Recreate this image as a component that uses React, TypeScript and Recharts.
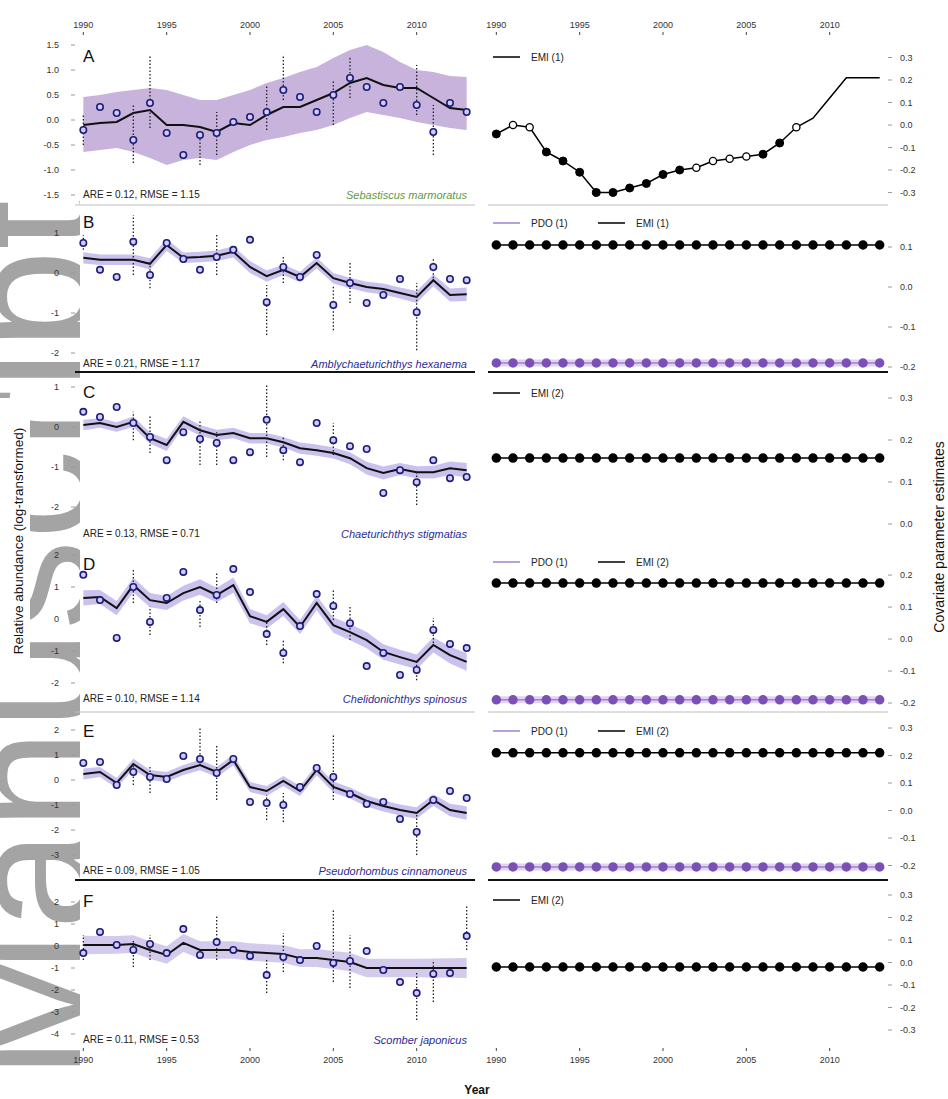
import React from 'react';
import { ComposedChart, Line, Area, Scatter, XAxis, YAxis, ErrorBar } from 'recharts';

// ---- shared axes ----
const years = [1990, 1991, 1992, 1993, 1994, 1995, 1996, 1997, 1998, 1999, 2000, 2001, 2002, 2003, 2004, 2005, 2006, 2007, 2008, 2009, 2010, 2011, 2012, 2013];
const yearTicks = [1990, 1995, 2000, 2005, 2010];

// ---- panel A: Sebastiscus marmoratus ----
const fitA = [-0.10, -0.06, -0.04, 0.14, 0.20, -0.10, -0.10, -0.14, -0.24, -0.06, -0.10, 0.10, 0.26, 0.26, 0.40, 0.54, 0.74, 0.84, 0.70, 0.64, 0.64, 0.44, 0.24, 0.20];
const hiA = [0.46, 0.50, 0.56, 0.60, 0.64, 0.60, 0.50, 0.40, 0.40, 0.50, 0.60, 0.74, 0.84, 0.96, 1.06, 1.24, 1.40, 1.50, 1.36, 1.16, 1.00, 0.96, 0.88, 0.86];
const loA = [-0.64, -0.60, -0.56, -0.64, -0.76, -0.90, -0.80, -0.76, -0.80, -0.64, -0.50, -0.40, -0.34, -0.26, -0.20, -0.10, 0.04, 0.16, 0.10, 0.04, -0.04, -0.10, -0.16, -0.20];
const obsA = [-0.20, 0.26, 0.14, -0.40, 0.34, -0.26, -0.70, -0.30, -0.26, -0.04, 0.06, 0.16, 0.60, 0.46, 0.16, 0.50, 0.84, 0.66, 0.34, 0.66, 0.30, -0.24, 0.34, 0.16];
const errLoA = [-0.50, null, null, -0.86, -0.16, null, null, -0.90, -0.70, null, null, -0.20, 0.40, null, null, -0.10, 0.44, null, null, null, 0.10, -0.70, null, null];
const errHiA = [0.10, null, null, 0.30, 1.30, null, null, -0.20, 0.16, null, null, 0.70, 1.30, null, null, 0.80, 1.26, null, null, null, 1.10, 0.30, null, null];
const emiA = [-0.04, 0.00, -0.01, -0.12, -0.16, -0.21, -0.30, -0.30, -0.28, -0.26, -0.22, -0.20, -0.19, -0.16, -0.15, -0.14, -0.13, -0.08, -0.01, 0.03, 0.12, 0.21, 0.21, 0.21];
const markA = ['f', 'o', 'o', 'f', 'f', 'f', 'f', 'f', 'f', 'f', 'f', 'f', 'o', 'o', 'o', 'o', 'f', 'f', 'o', '', '', '', '', ''];

// ---- panel B: Amblychaeturichthys hexanema ----
const fitB = [0.38, 0.33, 0.33, 0.33, 0.23, 0.70, 0.38, 0.40, 0.43, 0.53, 0.15, -0.08, 0.08, -0.10, 0.25, -0.13, -0.25, -0.35, -0.40, -0.50, -0.60, -0.18, -0.55, -0.53];
const ciB = [0.14, 0.13, 0.13, 0.13, 0.14, 0.15, 0.13, 0.13, 0.13, 0.14, 0.15, 0.14, 0.13, 0.13, 0.14, 0.13, 0.13, 0.13, 0.14, 0.14, 0.15, 0.15, 0.16, 0.17];
const obsB = [0.75, 0.08, -0.10, 0.78, -0.05, 0.75, 0.35, 0.08, 0.40, 0.58, 0.83, -0.73, 0.15, -0.10, 0.45, -0.80, -0.25, -0.75, -0.55, -0.15, -0.98, 0.15, -0.15, -0.18];
const errLoB = [0.58, null, null, -0.05, -0.38, null, null, null, -0.05, null, null, -1.55, -0.25, null, null, -1.43, -0.75, null, null, null, -1.93, -0.13, null, null];
const errHiB = [0.95, null, null, 1.45, 0.33, null, null, null, 1.00, null, null, -0.30, 0.45, null, null, -0.30, 0.25, null, null, null, -0.25, 0.38, null, null];
const pdoB = [-0.19, -0.19, -0.19, -0.19, -0.19, -0.19, -0.19, -0.19, -0.19, -0.19, -0.19, -0.19, -0.19, -0.19, -0.19, -0.19, -0.19, -0.19, -0.19, -0.19, -0.19, -0.19, -0.19, -0.19];
const emiB = [0.105, 0.105, 0.105, 0.105, 0.105, 0.105, 0.105, 0.105, 0.105, 0.105, 0.105, 0.105, 0.105, 0.105, 0.105, 0.105, 0.105, 0.105, 0.105, 0.105, 0.105, 0.105, 0.105, 0.105];

// ---- panel C: Chaeturichthys stigmatias ----
const fitC = [0.05, 0.10, 0.00, 0.13, -0.28, -0.45, 0.13, -0.08, -0.20, -0.15, -0.28, -0.28, -0.38, -0.53, -0.58, -0.65, -0.78, -1.03, -1.15, -1.05, -1.13, -1.13, -1.03, -1.08];
const ciC = [0.13, 0.12, 0.12, 0.13, 0.14, 0.15, 0.14, 0.13, 0.13, 0.13, 0.13, 0.13, 0.13, 0.14, 0.14, 0.14, 0.15, 0.16, 0.16, 0.15, 0.15, 0.16, 0.17, 0.18];
const obsC = [0.38, 0.25, 0.50, 0.10, -0.25, -0.83, -0.13, -0.30, -0.40, -0.83, -0.63, 0.18, -0.58, -0.88, 0.10, -0.33, -0.48, -0.55, -1.65, -1.08, -1.38, -0.83, -1.28, -1.25];
const errLoC = [null, null, null, -0.33, -0.65, null, null, -0.95, -0.95, null, null, -0.75, -0.83, null, null, -0.70, null, null, null, null, -1.95, null, null, null];
const errHiC = [null, null, null, 0.38, 0.30, null, null, 0.18, -0.13, null, null, 1.05, -0.25, null, null, 0.10, null, null, null, null, -1.08, null, null, null];
const emiC = [0.157, 0.157, 0.157, 0.157, 0.157, 0.157, 0.157, 0.157, 0.157, 0.157, 0.157, 0.157, 0.157, 0.157, 0.157, 0.157, 0.157, 0.157, 0.157, 0.157, 0.157, 0.157, 0.157, 0.157];

// ---- panel D: Chelidonichthys spinosus ----
const fitD = [0.66, 0.69, 0.34, 1.06, 0.59, 0.50, 0.81, 1.00, 0.75, 1.06, 0.09, -0.09, 0.31, -0.25, 0.50, -0.19, -0.41, -0.66, -1.03, -1.19, -1.34, -0.81, -1.13, -1.34];
const ciD = [0.24, 0.22, 0.22, 0.23, 0.22, 0.22, 0.23, 0.24, 0.23, 0.24, 0.22, 0.21, 0.22, 0.22, 0.23, 0.24, 0.25, 0.25, 0.24, 0.23, 0.23, 0.24, 0.26, 0.28];
const obsD = [1.38, 0.59, -0.59, 1.00, -0.09, 0.66, 1.47, 0.28, 0.75, 1.56, 0.84, -0.47, -1.06, -0.22, 0.78, 0.41, -0.13, -1.47, -1.06, -1.75, -1.59, -0.34, -0.78, -0.91];
const errLoD = [null, null, null, 0.50, -0.50, null, null, -0.25, 0.50, null, null, -0.81, -1.38, null, null, -0.03, -0.66, null, null, null, -1.91, -0.75, null, null];
const errHiD = [null, null, null, 1.53, 0.38, null, null, 0.59, 1.47, null, null, -0.03, -0.66, null, null, 0.91, 0.44, null, null, null, -1.28, 0.03, null, null];
const pdoD = [-0.19, -0.19, -0.19, -0.19, -0.19, -0.19, -0.19, -0.19, -0.19, -0.19, -0.19, -0.19, -0.19, -0.19, -0.19, -0.19, -0.19, -0.19, -0.19, -0.19, -0.19, -0.19, -0.19, -0.19];
const emiD = [0.175, 0.175, 0.175, 0.175, 0.175, 0.175, 0.175, 0.175, 0.175, 0.175, 0.175, 0.175, 0.175, 0.175, 0.175, 0.175, 0.175, 0.175, 0.175, 0.175, 0.175, 0.175, 0.175, 0.175];

// ---- panel E: Pseudorhombus cinnamoneus ----
const fitE = [0.24, 0.32, -0.12, 0.64, 0.20, 0.12, 0.40, 0.60, 0.32, 0.80, -0.28, -0.44, -0.04, -0.44, 0.40, -0.28, -0.52, -0.84, -1.04, -1.20, -1.32, -0.80, -1.20, -1.32];
const ciE = [0.22, 0.20, 0.20, 0.21, 0.20, 0.20, 0.20, 0.21, 0.20, 0.22, 0.20, 0.20, 0.20, 0.20, 0.21, 0.22, 0.22, 0.22, 0.22, 0.22, 0.23, 0.23, 0.25, 0.27];
const obsE = [0.68, 0.72, -0.20, 0.32, 0.12, 0.04, 0.96, 0.84, 0.28, 0.84, -0.88, -0.92, -1.00, -0.28, 0.48, 0.12, -0.56, -0.96, -0.88, -1.56, -2.08, -0.80, -0.44, -0.72];
const errLoE = [null, null, null, -0.20, -0.52, null, null, 0.60, -0.80, null, null, -1.60, -1.68, null, null, -0.80, null, null, null, null, -3.00, null, null, null];
const errHiE = [null, null, null, 0.60, 0.60, null, null, 2.08, 1.40, null, null, -0.60, -0.52, null, null, 1.80, null, null, null, null, -1.32, null, null, null];
const pdoE = [-0.205, -0.205, -0.205, -0.205, -0.205, -0.205, -0.205, -0.205, -0.205, -0.205, -0.205, -0.205, -0.205, -0.205, -0.205, -0.205, -0.205, -0.205, -0.205, -0.205, -0.205, -0.205, -0.205, -0.205];
const emiE = [0.21, 0.21, 0.21, 0.21, 0.21, 0.21, 0.21, 0.21, 0.21, 0.21, 0.21, 0.21, 0.21, 0.21, 0.21, 0.21, 0.21, 0.21, 0.21, 0.21, 0.21, 0.21, 0.21, 0.21];

// ---- panel F: Scomber japonicus ----
const fitF = [0.05, 0.05, 0.05, 0.09, -0.18, -0.41, 0.14, -0.18, -0.18, -0.18, -0.27, -0.32, -0.36, -0.55, -0.55, -0.64, -0.73, -1.00, -1.00, -1.00, -1.00, -1.00, -1.00, -1.00];
const ciF = [0.42, 0.41, 0.40, 0.40, 0.40, 0.40, 0.41, 0.40, 0.40, 0.40, 0.40, 0.40, 0.40, 0.40, 0.41, 0.41, 0.42, 0.42, 0.42, 0.42, 0.42, 0.43, 0.44, 0.46];
const obsF = [-0.32, 0.64, 0.05, -0.18, 0.09, -0.32, 0.77, -0.41, 0.18, -0.18, -0.45, -1.32, -0.50, -0.64, 0.00, -0.77, -0.68, -0.23, -1.09, -1.64, -2.14, -1.27, -1.23, 0.45];
const errLoF = [-0.64, null, null, -0.95, -0.64, null, null, null, -0.64, null, null, -2.14, -1.18, null, null, -1.64, -1.91, null, null, null, -3.36, -2.55, null, -0.18];
const errHiF = [0.50, null, null, 0.27, 0.50, null, null, null, 1.41, null, null, -0.64, 0.59, null, null, 1.64, 0.50, null, null, null, -1.23, -0.64, null, 1.86];
const emiF = [-0.02, -0.02, -0.02, -0.02, -0.02, -0.02, -0.02, -0.02, -0.02, -0.02, -0.02, -0.02, -0.02, -0.02, -0.02, -0.02, -0.02, -0.02, -0.02, -0.02, -0.02, -0.02, -0.02, -0.02];

type Num = number | null;

function abundanceRows(fit: number[], lo: number[], hi: number[], obs: number[], eLo: Num[], eHi: Num[]) {
  return years.map((year, i) => ({
    year,
    fit: fit[i],
    band: [lo[i], hi[i]],
    obs: obs[i],
    err: eLo[i] == null ? null : [obs[i] - (eLo[i] as number), (eHi[i] as number) - obs[i]],
  }));
}
function bandLo(fit: number[], ci: number[]) { return fit.map((v, i) => v - ci[i]); }
function bandHi(fit: number[], ci: number[]) { return fit.map((v, i) => v + ci[i]); }

function covariateRows(emi: number[], pdo?: number[], mark?: string[]) {
  return years.map((year, i) => ({
    year,
    emi: emi[i],
    pdo: pdo ? pdo[i] : null,
    mark: mark ? mark[i] : 'f',
  }));
}

const FONT = '"Liberation Sans", Arial, Helvetica, sans-serif';
const X_DOMAIN: [number, number] = [1989.5, 2013.5];

type Geom = { top: number; h: number; topAxis?: boolean; bottomLabels?: boolean; base: 'gray' | 'black' | 'none' };
const geoms: Geom[] = [
  { top: 35, h: 170, topAxis: true, base: 'gray' },
  { top: 210, h: 162, base: 'black' },
  { top: 376, h: 167, base: 'none' },
  { top: 545, h: 167, base: 'gray' },
  { top: 714, h: 166, base: 'black' },
  { top: 882, h: 166, bottomLabels: true, base: 'none' },
];

function baseLine(b: Geom['base']) {
  if (b === 'gray') return { stroke: '#bdbdbd', strokeWidth: 1.2 };
  if (b === 'black') return { stroke: '#111', strokeWidth: 2 };
  return false;
}

const tickFont = { fontSize: 9, fill: '#333', fontFamily: FONT };

function renderObs(p: any) {
  if (p.cx == null || p.cy == null) return <g />;
  return <circle cx={p.cx} cy={p.cy} r={3.2} fill="#d0ccff" stroke="#1d1d78" strokeWidth={1.6} />;
}

function topAxis(g: Geom) {
  return g.topAxis ? (
    <XAxis xAxisId="top" orientation="top" dataKey="year" type="number" domain={X_DOMAIN} allowDataOverflow
      ticks={yearTicks} interval={0} height={20} tickSize={3} tickMargin={4} axisLine={false}
      tickLine={{ stroke: '#444' }} tick={tickFont} />
  ) : null;
}
function bottomAxis(g: Geom) {
  return (
    <XAxis dataKey="year" type="number" domain={X_DOMAIN} allowDataOverflow ticks={yearTicks} interval={0}
      height={g.bottomLabels ? 24 : 4} tickSize={3} tickMargin={6} axisLine={baseLine(g.base)}
      tickLine={{ stroke: '#444' }} tick={g.bottomLabels ? tickFont : false} />
  );
}

function AbundancePanel({ g, rows, domain, ticks, fmt, bandFill, bandOpacity }: any) {
  const topH = g.topAxis ? 20 : 0;
  const botH = g.bottomLabels ? 24 : 4;
  return (
    <div style={{ position: 'absolute', left: 30, top: g.top - topH }}>
      <ComposedChart width={445} height={topH + g.h + botH} data={rows} margin={{ top: 0, right: 0, bottom: 0, left: 0 }}>
        {topAxis(g)}
        {bottomAxis(g)}
        <YAxis type="number" domain={domain} allowDataOverflow ticks={ticks} interval={0} width={45}
          axisLine={false} tickLine={{ stroke: '#999' }} tickSize={4} tickMargin={12} tick={tickFont} tickFormatter={fmt} />
        <Area type="linear" dataKey="band" stroke="none" fill={bandFill} fillOpacity={bandOpacity} isAnimationActive={false} activeDot={false} />
        <Line type="linear" dataKey="fit" stroke="#111" strokeWidth={2} dot={false} activeDot={false} isAnimationActive={false} />
        <Scatter dataKey="obs" shape={renderObs} isAnimationActive={false}>
          <ErrorBar dataKey="err" direction="y" width={0} stroke="#222" strokeWidth={1.3} strokeDasharray="1.5 2" />
        </Scatter>
      </ComposedChart>
    </div>
  );
}

function markedDot(p: any) {
  const key = `m${p.index}`;
  const m = p.payload?.mark;
  if (m === 'f') return <circle key={key} cx={p.cx} cy={p.cy} r={4} fill="#000" stroke="#000" />;
  if (m === 'o') return <circle key={key} cx={p.cx} cy={p.cy} r={3.6} fill="#fff" stroke="#000" strokeWidth={1.3} />;
  return <g key={key} />;
}

function CovariatePanel({ g, rows, domain, ticks, hasPdo, marked }: any) {
  const topH = g.topAxis ? 20 : 0;
  const botH = g.bottomLabels ? 24 : 4;
  return (
    <div style={{ position: 'absolute', left: 470, top: g.top - topH }}>
      <ComposedChart width={468} height={topH + g.h + botH} data={rows} margin={{ top: 0, right: 0, bottom: 0, left: 18 }}>
        {topAxis(g)}
        {bottomAxis(g)}
        <YAxis orientation="right" type="number" domain={domain} allowDataOverflow ticks={ticks} interval={0} width={50}
          axisLine={false} tickLine={{ stroke: '#999' }} tickSize={4} tickMargin={8} tick={tickFont}
          tickFormatter={(v: number) => v.toFixed(1)} />
        {hasPdo ? (
          <Line type="linear" dataKey="pdo" stroke="#e0d2f2" strokeWidth={7} dot={false} activeDot={false} isAnimationActive={false} />
        ) : null}
        {hasPdo ? (
          <Line type="linear" dataKey="pdo" stroke="#9f80d2" strokeWidth={1.5} dot={{ r: 4, fill: '#7b50b6', stroke: '#7b50b6' }} activeDot={false} isAnimationActive={false} />
        ) : null}
        <Line type="linear" dataKey="emi" stroke="#000" strokeWidth={1.5}
          dot={marked ? markedDot : { r: 4, fill: '#000', stroke: '#000' }} activeDot={false} isAnimationActive={false} />
      </ComposedChart>
    </div>
  );
}

const rowsA = abundanceRows(fitA, loA, hiA, obsA, errLoA, errHiA);
const rowsB = abundanceRows(fitB, bandLo(fitB, ciB), bandHi(fitB, ciB), obsB, errLoB, errHiB);
const rowsC = abundanceRows(fitC, bandLo(fitC, ciC), bandHi(fitC, ciC), obsC, errLoC, errHiC);
const rowsD = abundanceRows(fitD, bandLo(fitD, ciD), bandHi(fitD, ciD), obsD, errLoD, errHiD);
const rowsE = abundanceRows(fitE, bandLo(fitE, ciE), bandHi(fitE, ciE), obsE, errLoE, errHiE);
const rowsF = abundanceRows(fitF, bandLo(fitF, ciF), bandHi(fitF, ciF), obsF, errLoF, errHiF);

const oneDec = (v: number) => v.toFixed(1);
const intFmt = (v: number) => String(v);

const panelLetters = ['A', 'B', 'C', 'D', 'E', 'F'];
const letterY = [62, 228, 398, 570, 737, 907];
const fitStats = ['ARE = 0.12, RMSE = 1.15', 'ARE = 0.21, RMSE = 1.17', 'ARE = 0.13, RMSE = 0.71', 'ARE = 0.10, RMSE = 1.14', 'ARE = 0.09, RMSE = 1.05', 'ARE = 0.11, RMSE = 0.53'];
const statY = [198, 367, 537, 702, 874, 1043];
const species = ['Sebastiscus marmoratus', 'Amblychaeturichthys hexanema', 'Chaeturichthys stigmatias', 'Chelidonichthys spinosus', 'Pseudorhombus cinnamoneus', 'Scomber japonicus'];
const speciesColor = ['#5f9a42', '#2c2c92', '#2c2c92', '#2c2c92', '#2c2c92', '#2c2c92'];
const legendItems: { label: string; color: string }[][] = [
  [{ label: 'EMI (1)', color: '#000' }],
  [{ label: 'PDO (1)', color: '#9f80d2' }, { label: 'EMI (1)', color: '#000' }],
  [{ label: 'EMI (2)', color: '#000' }],
  [{ label: 'PDO (1)', color: '#9f80d2' }, { label: 'EMI (2)', color: '#000' }],
  [{ label: 'PDO (1)', color: '#9f80d2' }, { label: 'EMI (2)', color: '#000' }],
  [{ label: 'EMI (2)', color: '#000' }],
];
const legendY = [57, 223, 393, 562, 731, 900];

export default function App() {
  return (
    <div style={{ position: 'absolute', left: 0, top: 0, width: 948, height: 1099, background: '#fff', fontFamily: FONT, overflow: 'hidden' }}>
      {/* watermark along the left margin, clipped to the margin strip */}
      <svg width={948} height={1099} style={{ position: 'absolute', left: 0, top: 0 }}>
        <defs>
          <clipPath id="marginClip">
            <rect x={0} y={0} width={80} height={1099} />
          </clipPath>
        </defs>
        <g clipPath="url(#marginClip)">
          <text transform="translate(92,1080) rotate(-90)" fontFamily={FONT} fontSize={180} fill="#a4a4a4">Manuscript</text>
        </g>
      </svg>

      <AbundancePanel g={geoms[0]} rows={rowsA} domain={[-1.7, 1.7]} ticks={[-1.5, -1, -0.5, 0, 0.5, 1, 1.5]} fmt={oneDec} bandFill="#c8b3dc" bandOpacity={1} />
      <AbundancePanel g={geoms[1]} rows={rowsB} domain={[-2.475, 1.575]} ticks={[-2, -1, 0, 1]} fmt={intFmt} bandFill="#a898e2" bandOpacity={0.6} />
      <AbundancePanel g={geoms[2]} rows={rowsC} domain={[-2.9, 1.275]} ticks={[-2, -1, 0, 1]} fmt={intFmt} bandFill="#a898e2" bandOpacity={0.6} />
      <AbundancePanel g={geoms[3]} rows={rowsD} domain={[-2.906, 2.3125]} ticks={[-2, -1, 0, 1, 2]} fmt={intFmt} bandFill="#a898e2" bandOpacity={0.6} />
      <AbundancePanel g={geoms[4]} rows={rowsE} domain={[-4, 2.64]} ticks={[-3, -2, -1, 0, 1, 2]} fmt={intFmt} bandFill="#a898e2" bandOpacity={0.6} />
      <AbundancePanel g={geoms[5]} rows={rowsF} domain={[-4.636, 2.909]} ticks={[-4, -3, -2, -1, 0, 1, 2]} fmt={intFmt} bandFill="#b8a8e0" bandOpacity={0.6} />

      <CovariatePanel g={geoms[0]} rows={covariateRows(emiA, undefined, markA)} domain={[-0.3556, 0.4]} ticks={[-0.3, -0.2, -0.1, 0, 0.1, 0.2, 0.3]} marked />
      <CovariatePanel g={geoms[1]} rows={covariateRows(emiB, pdoB)} domain={[-0.2125, 0.1925]} ticks={[-0.2, -0.1, 0, 0.1]} hasPdo />
      <CovariatePanel g={geoms[2]} rows={covariateRows(emiC)} domain={[-0.0452, 0.3524]} ticks={[0, 0.1, 0.2, 0.3]} />
      <CovariatePanel g={geoms[3]} rows={covariateRows(emiD, pdoD)} domain={[-0.228, 0.294]} ticks={[-0.2, -0.1, 0, 0.1, 0.2]} hasPdo />
      <CovariatePanel g={geoms[4]} rows={covariateRows(emiE, pdoE)} domain={[-0.2527, 0.351]} ticks={[-0.2, -0.1, 0, 0.1, 0.2, 0.3]} hasPdo />
      <CovariatePanel g={geoms[5]} rows={covariateRows(emiF)} domain={[-0.38, 0.3578]} ticks={[-0.3, -0.2, -0.1, 0, 0.1, 0.2, 0.3]} />

      {/* annotations, legends and axis titles */}
      <svg width={948} height={1099} style={{ position: 'absolute', left: 0, top: 0, pointerEvents: 'none' }} fontFamily={FONT}>
        <rect x={0} y={398} width={30} height={286} fill="#fff" />
        <text transform="translate(23,541) rotate(-90)" textAnchor="middle" fontSize={13.5} fill="#111">Relative abundance (log-transformed)</text>
        <text transform="translate(944,537) rotate(-90)" textAnchor="middle" fontSize={14} fill="#111">Covariate parameter estimates</text>
        <text x={477} y={1094} textAnchor="middle" fontSize={12} fontWeight="bold" fill="#111">Year</text>

        {panelLetters.map((L, i) => (
          <text key={L} x={83} y={letterY[i]} fontSize={17} fill="#111">{L}</text>
        ))}
        {fitStats.map((s, i) => (
          <text key={`s${i}`} x={83} y={statY[i]} fontSize={10} fill="#222">{s}</text>
        ))}
        {species.map((s, i) => (
          <text key={`p${i}`} x={467} y={statY[i] + 1} textAnchor="end" fontSize={11} fontStyle="italic" fill={speciesColor[i]}>{s}</text>
        ))}
        {legendItems.map((items, i) => (
          <g key={`l${i}`}>
            {items.map((it, j) => {
              const x0 = 493 + j * 105;
              return (
                <g key={it.label + j}>
                  <line x1={x0} x2={x0 + 27} y1={legendY[i]} y2={legendY[i]} stroke={it.color} strokeWidth={1.5} />
                  <text x={x0 + 38} y={legendY[i] + 3.5} fontSize={10} fill="#222">{it.label}</text>
                </g>
              );
            })}
          </g>
        ))}
      </svg>
    </div>
  );
}
